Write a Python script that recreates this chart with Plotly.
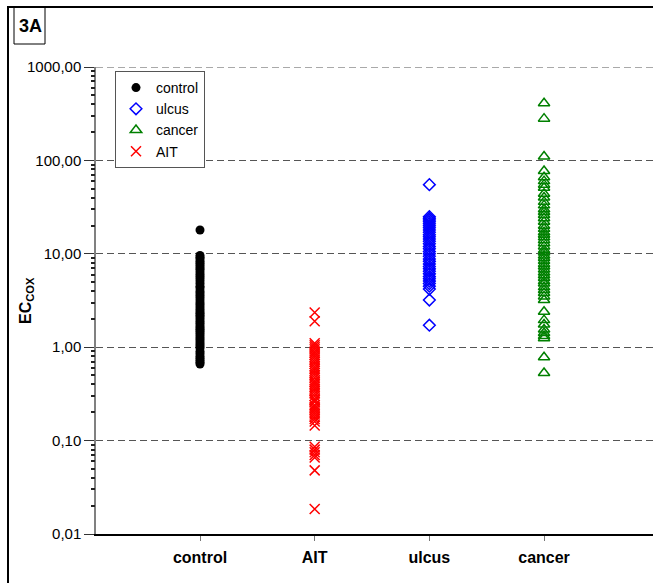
import plotly.graph_objects as go

# Groups on the x axis, in display order
categories = ["control", "AIT", "ulcus", "cancer"]

# EC_COX values per group
control = [18.0, 9.6, 9.2, 8.8, 8.3, 7.9, 7.5, 7.1, 6.8, 6.4, 6.0, 5.7, 5.4, 5.1,
           4.8, 4.5, 4.3, 4.0, 3.8, 3.6, 3.4, 3.2, 3.0, 2.85, 2.7, 2.55, 2.4, 2.3,
           2.2, 2.1, 2.0, 1.9, 1.8, 1.7, 1.62, 1.55, 1.48, 1.4, 1.33, 1.26, 1.2,
           1.14, 1.08, 1.03, 0.98, 0.9, 0.85, 0.8, 0.76, 0.72, 0.69, 0.66]
ait = [2.35, 1.9, 1.1, 1.05, 1.0, 0.95, 0.9, 0.86, 0.82, 0.78, 0.74, 0.7, 0.66,
       0.62, 0.59, 0.56, 0.53, 0.5, 0.47, 0.44, 0.42, 0.4, 0.38, 0.36, 0.34,
       0.32, 0.3, 0.28, 0.27, 0.26, 0.24, 0.23, 0.22, 0.21, 0.2, 0.19, 0.18,
       0.17, 0.16, 0.145, 0.086, 0.08, 0.075, 0.07, 0.066, 0.048, 0.0185]
ulcus = [55.0, 25.0, 24.0, 23.0, 22.0, 21.0, 20.0, 19.0, 18.0, 17.0, 16.0, 15.2,
         14.4, 13.6, 12.8, 12.0, 11.3, 10.6, 10.0, 9.4, 8.8, 8.3, 7.8, 7.3, 6.9,
         6.5, 6.1, 5.7, 5.4, 5.1, 4.8, 4.5, 4.2, 3.2, 1.72]
cancer = [410.0, 280.0, 110.0, 77.0, 66.0, 60.0, 55.0, 51.0, 44.0, 40.0, 36.0,
          33.0, 30.0, 28.0, 26.0, 24.0, 22.0, 20.0, 18.5, 17.0, 16.0, 15.0, 14.0,
          13.0, 12.0, 11.0, 10.3, 9.6, 9.0, 8.4, 7.8, 7.3, 6.8, 6.3, 5.9, 5.5,
          5.1, 4.8, 4.4, 4.1, 3.8, 3.5, 3.2, 2.4, 1.95, 1.75, 1.55, 1.42, 1.32,
          1.25, 0.78, 0.53]

tick_vals = [0.01, 0.1, 1, 10, 100, 1000]
tick_text = ["0,01", "0,10", "1,00", "10,00", "100,00", "1000,00"]

# minor log ticks: 2..9 within each decade
minor_vals = [m * d for d in tick_vals[:-1] for m in range(2, 10)]

FONT = "Liberation Sans, Arial, sans-serif"
pos = {c: i + 1 for i, c in enumerate(categories)}
Y_RANGE = [-2, 3]

series = [
    ("control", control, dict(symbol="circle", size=9, color="black")),
    ("ulcus", ulcus, dict(symbol="diamond-open", size=9, color="#0000FF",
                          line=dict(width=1.5, color="#0000FF"))),
    ("cancer", cancer, dict(symbol="triangle-up-open", size=10, color="#008000",
                            line=dict(width=1.5, color="#008000"))),
    ("AIT", ait, dict(symbol="x-thin-open", size=10, color="#FF0000",
                      line=dict(width=1.5, color="#FF0000"))),
]

fig = go.Figure()
for name, vals, marker in series:
    fig.add_trace(go.Scatter(
        x=[pos[name]] * len(vals), y=vals, mode="markers", name=name,
        marker=marker, showlegend=True,
    ))

# empty trace so the minor-tick overlay axis gets drawn
fig.add_trace(go.Scatter(x=[None], y=[None], yaxis="y2", mode="markers",
                         showlegend=False, hoverinfo="skip"))

W, H = 653, 583
ml, mr, mt, mb = 96, 0, 67, 49
pw, ph = W - ml - mr, H - mt - mb


def px_x(p):
    return (p - ml) / pw


def px_y(p):
    return (H - mb - p) / ph


GRID = dict(color="#555555", width=1, dash="7px,4px")

fig.update_layout(
    width=W, height=H,
    margin=dict(l=ml, r=mr, t=mt, b=mb, pad=0),
    paper_bgcolor="white", plot_bgcolor="white",
    font=dict(family=FONT, color="black"),
    legend=dict(
        x=px_x(115), y=px_y(71), xanchor="left", yanchor="top",
        bordercolor="#555555", borderwidth=1, bgcolor="white",
        font=dict(family=FONT, size=14, color="black"),
        itemwidth=30, tracegroupgap=0,
    ),
    xaxis=dict(
        range=[0.093, 4.95], tickvals=[pos[c] for c in categories],
        ticktext=categories, showgrid=False, zeroline=False,
        showline=True, linecolor="black", linewidth=1.5,
        ticks="outside", ticklen=5, tickcolor="#777777",
        tickfont=dict(family=FONT, size=16, color="black", weight="bold"),
        ticklabelstandoff=3,
    ),
    yaxis=dict(
        type="log", range=Y_RANGE, tickvals=tick_vals, ticktext=tick_text,
        showgrid=True, gridcolor=GRID["color"], gridwidth=GRID["width"],
        griddash=GRID["dash"],
        zeroline=False, showline=True, linecolor="#808080", linewidth=1.5,
        ticks="outside", ticklen=10, tickcolor="#333333",
        tickfont=dict(family=FONT, size=15, color="black"),
    ),
    # tick-only overlay axis carrying the minor log ticks
    yaxis2=dict(
        type="log", range=Y_RANGE, overlaying="y", anchor="x", side="left",
        tickmode="array", tickvals=minor_vals, showticklabels=False,
        ticks="outside", ticklen=4, tickwidth=1.5, tickcolor="#222222",
        showgrid=False, zeroline=False, showline=False,
    ),
    shapes=[
        # outer frame
        dict(type="rect", xref="paper", yref="paper",
             x0=px_x(8), x1=px_x(700), y0=px_y(640), y1=px_y(7),
             line=dict(color="black", width=2)),
        # panel label box
        dict(type="rect", xref="paper", yref="paper",
             x0=px_x(14), x1=px_x(45), y0=px_y(44), y1=px_y(7),
             line=dict(color="black", width=1)),
        # gridline at the top of the value range
        dict(type="line", xref="paper", yref="y", x0=0, x1=1,
             y0=tick_vals[-1], y1=tick_vals[-1], line=GRID, layer="below"),
    ],
    annotations=[
        dict(text="<b>3A</b>", xref="paper", yref="paper",
             x=px_x(30), y=px_y(26), xanchor="center", yanchor="middle",
             showarrow=False, font=dict(family=FONT, size=18, color="black")),
        dict(text="<b>EC<sub>COX</sub></b>", xref="paper", yref="paper",
             x=px_x(26), y=px_y(301), xanchor="center", yanchor="middle",
             textangle=-90, showarrow=False,
             font=dict(family=FONT, size=16, color="black")),
    ],
)

fig.write_html("out.html")
